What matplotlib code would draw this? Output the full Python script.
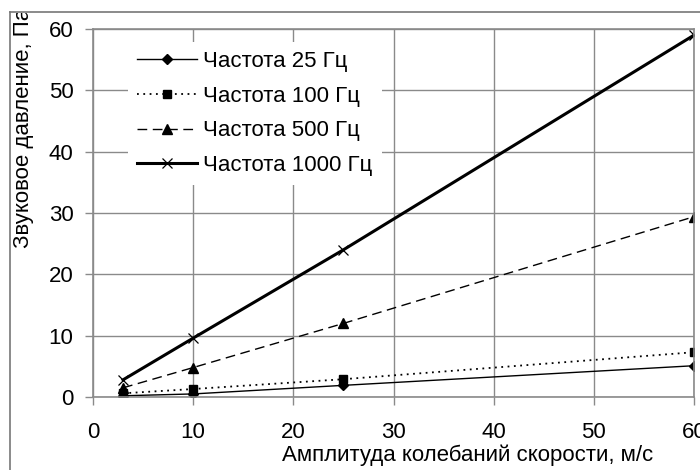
import matplotlib.pyplot as plt
from matplotlib.lines import Line2D
from matplotlib.transforms import Bbox, TransformedBbox

plt.rcParams['font.family'] = ['Liberation Sans', 'DejaVu Sans']

# data
speed = [3, 10, 25, 60]
p_25 = [0.2, 0.5, 1.9, 5.1]
p_100 = [0.6, 1.3, 2.9, 7.3]
p_500 = [1.5, 4.8, 12.0, 29.4]
p_1000 = [2.8, 9.6, 24.0, 59.0]
labels = ['Частота 25 Гц', 'Частота 100 Гц', 'Частота 500 Гц', 'Частота 1000 Гц']
x_ticks = [0, 10, 20, 30, 40, 50, 60]
y_ticks = [0, 10, 20, 30, 40, 50, 60]

W, H = 700, 470
fig = plt.figure(figsize=(7, 4.7), dpi=100)
ax = fig.add_axes([93 / W, 1 - 397 / H, (694 - 93) / W, (397 - 29) / H])

grey = '#8a8a8a'
ax.plot(speed, p_25, color='black', lw=1.0, marker='D', ms=5, label=labels[0])
ax.plot(speed, p_100, color='black', lw=1.3, ls=(0, (1, 2.5)), marker='s', ms=6, label=labels[1])
ax.plot(speed, p_500, color='black', lw=1.0, ls=(0, (7, 4)), marker='^', ms=7, label=labels[2])
ax.plot(speed, p_1000, color='black', lw=2.2, marker='x', ms=7, mew=0.9, label=labels[3])

ax.set_xlim(0, 60)
ax.set_ylim(0, 60)
ax.set_xticks(x_ticks)
ax.set_yticks(y_ticks)
ax.grid(True, color=grey, lw=1.0)
ax.set_axisbelow(True)
for s in ax.spines.values():
    s.set_color(grey)
    s.set_linewidth(1.2)
ax.tick_params(direction='out', length=6, width=1.0, color=grey, labelsize=16)
ax.tick_params(axis='x', pad=12)
ax.tick_params(axis='y', pad=8)
for c in ax.spines:
    ax.spines[c].set_clip_on(False)

leg = ax.legend(loc='upper left', bbox_to_anchor=(0.058, 0.965), fontsize=16,
                frameon=True, fancybox=False, edgecolor='none', facecolor='white',
                framealpha=1, handlelength=2.7, handletextpad=0.3, labelspacing=0.62,
                borderpad=0.4, borderaxespad=0)

fig.text(468 / W, 1 - 455 / H, 'Амплитуда колебаний скорости, м/с', fontsize=16,
         ha='center', va='center')
yl = fig.text(24 / W, 1 - 248 / H, 'Звуковое давление, Па', fontsize=16,
              rotation=90, ha='center', va='bottom')
yl.set_clip_box(TransformedBbox(Bbox([[0, 0], [1, 1 - 13 / H]]), fig.transFigure))
yl.set_clip_on(True)

# outer chart frame, cut at the picture edge
fig.add_artist(Line2D([10 / W, 1], [1 - 12 / H, 1 - 12 / H], color='#777777', lw=1.2))
fig.add_artist(Line2D([10 / W, 10 / W], [0, 1 - 12 / H], color='#777777', lw=1.2))

fig.savefig('out.png', dpi=100)
